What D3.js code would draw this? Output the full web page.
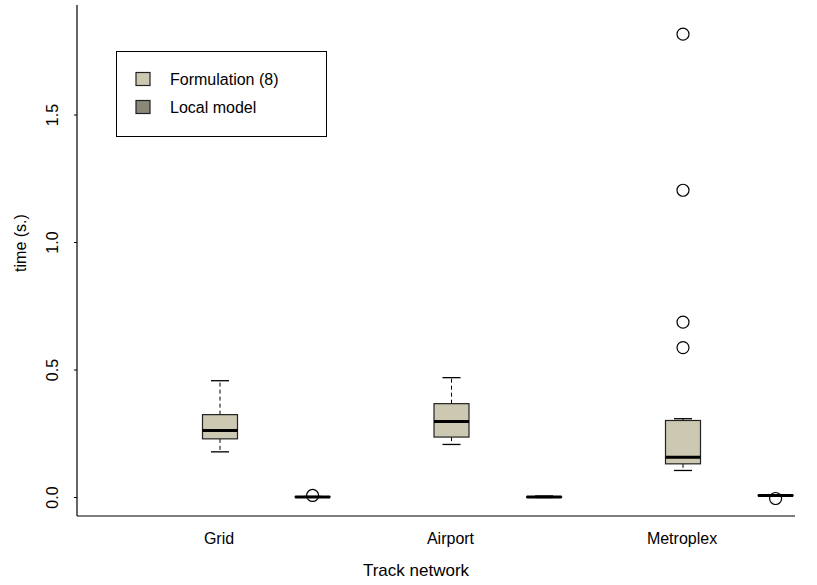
<!DOCTYPE html>
<html>
<head>
<meta charset="utf-8">
<script src="https://cdn.jsdelivr.net/npm/d3@7"></script>
<style>
  body { margin: 0; background: #fff; }
  svg { display: block; font-family: "Liberation Sans", Arial, Helvetica, sans-serif; }
</style>
</head>
<body>
<svg id="chart" width="817" height="585"></svg>
<script>
// ---- data ----
const groups = ["Grid", "Airport", "Metroplex"];
const seriesNames = ["Formulation (8)", "Local model"];
const seriesColors = ["#cdc8b1", "#8b8878"];
// box positions (R-style "at")
const positions = [1, 2, 3.5, 4.5, 6, 7];
// [lower whisker, Q1, median, Q3, upper whisker]
const formulationStats = [
  [0.179, 0.230, 0.263, 0.325, 0.458],
  [0.208, 0.237, 0.298, 0.368, 0.470],
  [0.106, 0.132, 0.158, 0.302, 0.309]
];
const formulationOutliers = [[], [], [0.588, 0.688, 1.205, 1.817]];
const localStats = [
  [0.001, 0.002, 0.002, 0.003, 0.004],
  [0.000, 0.001, 0.002, 0.003, 0.006],
  [0.006, 0.007, 0.008, 0.009, 0.010]
];
const localOutliers = [[0.008], [], [-0.004]];
const yTicks = [0.0, 0.5, 1.0, 1.5];
const yLabels = ["0.0", "0.5", "1.0", "1.5"];
const xTitle = "Track network";
const yTitle = "time (s.)";

// ---- layout ----
const svg = d3.select("#chart");
const plot = { left: 77, right: 795, top: 5, bottom: 516 };

const x = d3.scaleLinear().domain([1, 7]).range([220, 775.6]);
const y = d3.scaleLinear().domain([0, 1.5]).range([497.5, 115]);

const boxW = 35, capW = 18;

// build box records
const boxes = [];
groups.forEach((g, i) => {
  boxes.push({ pos: positions[i * 2], s: formulationStats[i], out: formulationOutliers[i], color: seriesColors[0] });
  boxes.push({ pos: positions[i * 2 + 1], s: localStats[i], out: localOutliers[i], color: seriesColors[1] });
});

const gb = svg.append("g");
boxes.forEach(b => {
  const cx = x(b.pos);
  const [lo, q1, med, q3, hi] = b.s;
  // whiskers (dashed)
  gb.append("line").attr("x1", cx).attr("x2", cx).attr("y1", y(q3)).attr("y2", y(hi))
    .attr("stroke", "#000").attr("stroke-width", 1).attr("stroke-dasharray", "4,3");
  gb.append("line").attr("x1", cx).attr("x2", cx).attr("y1", y(q1)).attr("y2", y(lo))
    .attr("stroke", "#000").attr("stroke-width", 1).attr("stroke-dasharray", "4,3");
  // caps
  [lo, hi].forEach(v => {
    gb.append("line").attr("x1", cx - capW / 2).attr("x2", cx + capW / 2)
      .attr("y1", y(v)).attr("y2", y(v)).attr("stroke", "#000").attr("stroke-width", 1.3);
  });
  // box
  gb.append("rect").attr("x", cx - boxW / 2).attr("width", boxW)
    .attr("y", y(q3)).attr("height", Math.max(0.01, y(q1) - y(q3)))
    .attr("fill", b.color).attr("stroke", "#222").attr("stroke-width", 1.2);
  // median
  gb.append("line").attr("x1", cx - boxW / 2).attr("x2", cx + boxW / 2)
    .attr("y1", y(med)).attr("y2", y(med)).attr("stroke", "#000").attr("stroke-width", 3);
  // outliers
  b.out.forEach(v => {
    gb.append("circle").attr("cx", cx).attr("cy", y(v)).attr("r", 6)
      .attr("fill", "none").attr("stroke", "#000").attr("stroke-width", 1.2);
  });
});

// ---- axes frame (bty = "l") ----
svg.append("line").attr("x1", plot.left).attr("x2", plot.left).attr("y1", plot.top).attr("y2", plot.bottom)
  .attr("stroke", "#000").attr("stroke-width", 1.2);
svg.append("line").attr("x1", plot.left).attr("x2", plot.right).attr("y1", plot.bottom).attr("y2", plot.bottom)
  .attr("stroke", "#000").attr("stroke-width", 1.2);

// y axis ticks and labels
const gy = svg.append("g");
yTicks.forEach((t, i) => {
  gy.append("line").attr("x1", plot.left - 3).attr("x2", plot.left).attr("y1", y(t)).attr("y2", y(t))
    .attr("stroke", "#000").attr("stroke-width", 1);
  gy.append("text").attr("transform", `translate(${52},${y(t)}) rotate(-90)`)
    .attr("text-anchor", "middle").attr("dominant-baseline", "central")
    .attr("font-size", 16).attr("fill", "#000").text(yLabels[i]);
});

// x labels (under formulation boxes)
groups.forEach((g, i) => {
  svg.append("text").attr("x", x(positions[i * 2]) - 1).attr("y", 538)
    .attr("text-anchor", "middle").attr("dominant-baseline", "central")
    .attr("font-size", 16).attr("fill", "#000").text(g);
});

// axis titles
svg.append("text").attr("x", 416).attr("y", 570).attr("text-anchor", "middle")
  .attr("dominant-baseline", "central").attr("font-size", 17).attr("fill", "#000").text(xTitle);
svg.append("text").attr("transform", `translate(20,243) rotate(-90)`)
  .attr("text-anchor", "middle").attr("dominant-baseline", "central")
  .attr("font-size", 16).attr("fill", "#000").text(yTitle);

// ---- legend ----
const lg = svg.append("g");
lg.append("rect").attr("x", 116.5).attr("y", 51.5).attr("width", 210).attr("height", 85)
  .attr("fill", "#fff").attr("stroke", "#000").attr("stroke-width", 1);
seriesNames.forEach((n, i) => {
  const cy = 79 + i * 28;
  lg.append("rect").attr("x", 136).attr("y", cy - 6.5).attr("width", 14).attr("height", 13)
    .attr("fill", seriesColors[i]).attr("stroke", "#222").attr("stroke-width", 1.2);
  lg.append("text").attr("x", 170).attr("y", cy).attr("dominant-baseline", "central")
    .attr("font-size", 16).attr("fill", "#000").text(n);
});
</script>
</body>
</html>
